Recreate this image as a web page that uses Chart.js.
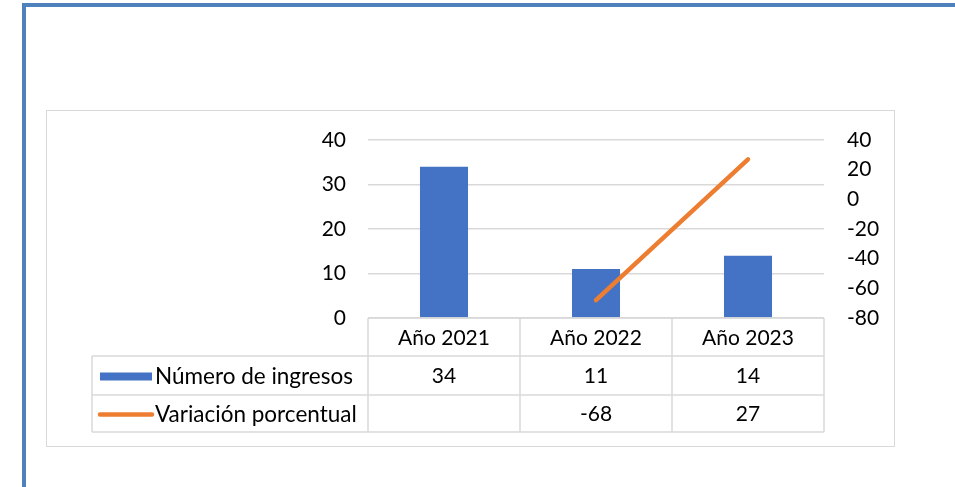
<!DOCTYPE html>
<html>
<head>
<meta charset="utf-8">
<script src="https://cdn.jsdelivr.net/npm/chart.js@4"></script>
<style>
    html, body { margin: 0; padding: 0; background: #fff; overflow: hidden; }
    .page {
        position: absolute; left: 22px; top: 3px; width: 929px; height: 490px;
        border-top: 4.5px solid #4F81BD; border-left: 4.5px solid #4F81BD; border-right: 1.5px solid #95B3D7;
    }
    .chart-box {
        position: absolute; left: 46px; top: 110px; width: 847px; height: 335px;
        border: 1.5px solid #D9D9D9;
    }
    #chart { position: absolute; left: 0; top: 0; }
</style>
</head>
<body>
<div class="page"></div>
<div class="chart-box"></div>
<canvas id="chart" width="955" height="487"></canvas>
<script>
const categories = ['Año 2021', 'Año 2022', 'Año 2023'];
const seriesNames = ['Número de ingresos', 'Variación porcentual'];
const ingresos = [34, 11, 14];
const variacion = [null, -68, 27];
const leftTicks = [0, 10, 20, 30, 40];
const rightTicks = [-80, -60, -40, -20, 0, 20, 40];

const BLUE = '#4472C4';
const ORANGE = '#ED7D31';
const GRID = '#D9D9D9';

Chart.defaults.font.family = 'Lato';
Chart.defaults.font.size = 21;
Chart.defaults.color = '#000';

// Excel-style data table under the plot, aligned with the category scale
const dataTablePlugin = {
    id: 'dataTable',
    afterDraw(chart) {
        const { ctx, chartArea, scales } = chart;
        const x = scales.x;
        const half = (chartArea.right - chartArea.left) / categories.length / 2;
        const top = chartArea.bottom;
        const rows = [top, top + 38, top + 77, top + 114];
        const tableLeft = 92;

        ctx.save();
        ctx.strokeStyle = GRID;
        ctx.lineWidth = 1.5;
        ctx.beginPath();
        ctx.moveTo(chartArea.left, rows[0]);
        ctx.lineTo(chartArea.right, rows[0]);
        for (let r = 1; r < rows.length; r++) {
            ctx.moveTo(tableLeft, rows[r]);
            ctx.lineTo(chartArea.right, rows[r]);
        }
        ctx.moveTo(tableLeft, rows[1]);
        ctx.lineTo(tableLeft, rows[3]);
        categories.forEach((c, i) => {
            const xl = x.getPixelForValue(i) - half;
            ctx.moveTo(xl, rows[0]);
            ctx.lineTo(xl, rows[3]);
        });
        ctx.moveTo(chartArea.right, rows[0]);
        ctx.lineTo(chartArea.right, rows[3]);
        ctx.stroke();

        ctx.fillStyle = '#000';
        ctx.font = '21px Lato';
        ctx.textBaseline = 'middle';
        ctx.textAlign = 'center';
        const mid = (r) => (rows[r] + rows[r + 1]) / 2 + 1;
        categories.forEach((c, i) => {
            const cx = x.getPixelForValue(i);
            ctx.fillText(c, cx, mid(0));
            ctx.fillText(String(ingresos[i]), cx, mid(1));
            if (variacion[i] !== null) ctx.fillText(String(variacion[i]), cx, mid(2));
        });

        ctx.textAlign = 'left';
        ctx.font = '22.5px Lato';
        ctx.fillText(seriesNames[0], 155, mid(1));
        ctx.fillText(seriesNames[1], 155, mid(2));

        // legend keys
        ctx.fillStyle = BLUE;
        ctx.fillRect(100, mid(1) - 4, 52, 8);
        ctx.strokeStyle = ORANGE;
        ctx.lineWidth = 4.5;
        ctx.lineCap = 'round';
        ctx.beginPath();
        ctx.moveTo(100, mid(2));
        ctx.lineTo(152, mid(2));
        ctx.stroke();
        ctx.restore();
    }
};

new Chart(document.getElementById('chart'), {
    type: 'bar',
    data: {
        labels: categories,
        datasets: [{
            label: seriesNames[0],
            data: ingresos,
            backgroundColor: BLUE,
            barPercentage: 0.316,
            categoryPercentage: 1,
            yAxisID: 'y',
            order: 1,
        }, {
            type: 'line',
            label: seriesNames[1],
            data: variacion,
            borderColor: ORANGE,
            borderWidth: 4.5,
            borderCapStyle: 'round',
            pointRadius: 0,
            tension: 0,
            yAxisID: 'y1',
            order: 0,
        }],
    },
    options: {
        responsive: false,
        animation: false,
        layout: { padding: { top: 140, left: 0, right: 0, bottom: 0 } },
        plugins: {
            legend: { display: false },
            tooltip: { enabled: false },
        },
        scales: {
            x: {
                grid: { display: false },
                border: { display: false },
                ticks: { display: false },
                afterFit: (scale) => { scale.height = 169; },
            },
            y: {
                position: 'left',
                min: 0,
                max: 40,
                afterBuildTicks: (scale) => { scale.ticks = leftTicks.map((v) => ({ value: v })); },
                grid: { color: GRID, lineWidth: 1.5, drawTicks: false },
                border: { display: false },
                ticks: { padding: 22 },
                afterFit: (scale) => { scale.width = 368; },
            },
            y1: {
                position: 'right',
                min: -80,
                max: 40,
                afterBuildTicks: (scale) => { scale.ticks = rightTicks.map((v) => ({ value: v })); },
                grid: { display: false, drawTicks: false },
                border: { display: false },
                ticks: { padding: 23, callback: (v) => String(v) },
                afterFit: (scale) => { scale.width = 131; },
            },
        },
    },
    plugins: [dataTablePlugin],
});
</script>
</body>
</html>
